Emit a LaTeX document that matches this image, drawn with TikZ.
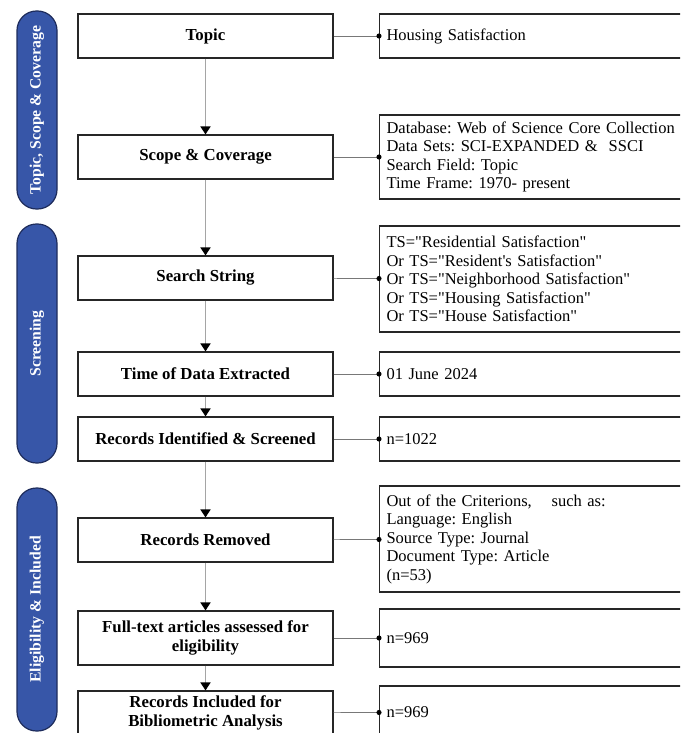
\documentclass[tikz,border=0pt]{standalone}
\usepackage{fontspec}
\setmainfont{Liberation Serif}
\usepackage{xcolor}
\usepackage{tikz}
\usetikzlibrary{arrows.meta}
\definecolor{pillblue}{RGB}{55,86,168}
\definecolor{pilledge}{RGB}{30,44,92}
\definecolor{flowgray}{RGB}{165,165,165}
\definecolor{linkgray}{RGB}{120,120,120}
\newcommand{\qt}[1]{\textquotedbl #1\textquotedbl}
\frenchspacing

\begin{document}
\begin{tikzpicture}[x=1pt,y=-1pt]
		\clip (0,0) rectangle (680,733);
		\tikzstyle{every node}+=[font=\fontsize{16.5}{18.5}\selectfont]
		\tikzstyle{stepbox}=[draw=black!85,line width=1.1pt,minimum width=255,minimum height=44,inner sep=2pt,align=center,font=\fontsize{16.8}{18.5}\selectfont\bfseries]
		\tikzstyle{infobox}=[draw=black!85,line width=1.1pt,anchor=west,text width=300,inner xsep=7,inner ysep=2,align=left]
		\tikzstyle{pill}=[draw=pilledge,line width=1.2pt,fill=pillblue,rounded corners=19.5,minimum height=40,inner sep=0pt,rotate=90,text=white,font=\fontsize{15.7}{17}\selectfont\bfseries]
		\tikzstyle{flow}=[draw=flowgray,line width=1.5pt,-{Triangle[width=10pt,length=8pt,color=black]}]
		\tikzstyle{link}=[draw=linkgray,line width=0.7pt,shorten >=-2.5pt,-{Circle[length=5pt,color=black]}]
		\node[pill,minimum width=198] (t) at (37,110) {Topic, Scope \& Coverage};
		\node[pill,minimum width=239] (u) at (37,343.5) {Screening};
		\node[pill,minimum width=243] (v) at (37,609.5) {Eligibility \& Included};
		\node[stepbox] (a) at (205.5,36) {Topic};
		\node[stepbox] (b) at (205.5,157) {Scope \& Coverage};
		\node[stepbox] (c) at (205.5,278) {Search String};
		\node[stepbox] (d) at (205.5,374) {Time of Data Extracted};
		\node[stepbox] (e) at (205.5,439) {Records Identified \& Screened};
		\node[stepbox] (f) at (205.5,540) {Records Removed};
		\node[stepbox,minimum height=54] (g) at (205.5,638) {Full-text articles assessed for\\eligibility};
		\node[stepbox] (h) at (205.5,713) {Records Included for\\Bibliometric Analysis};
		\node[infobox,minimum height=44] (i) at (379,36) {Housing Satisfaction};
		\node[infobox,minimum height=84] (j) at (379,157) {Database: Web of Science Core Collection\\Data Sets: SCI-EXPANDED \&\ \ SSCI\\Search Field: Topic\\Time Frame: 1970- present};
		\node[infobox,minimum height=106] (k) at (379,279) {TS=\qt{Residential Satisfaction}\\Or TS=\qt{Resident\textquotesingle s Satisfaction}\\Or TS=\qt{Neighborhood Satisfaction}\\Or TS=\qt{Housing Satisfaction}\\Or TS=\qt{House Satisfaction}};
		\node[infobox,minimum height=44] (l) at (379,374) {01 June 2024};
		\node[infobox,minimum height=44] (m) at (379,439) {n=1022};
		\node[infobox,minimum height=106] (n) at (379,539) {Out of the Criterions,\hspace{1.2em}such as:\\Language: English\\Source Type: Journal\\Document Type: Article\\(n=53)};
		\node[infobox,minimum height=58] (o) at (379,638) {n=969};
		\node[infobox,minimum height=52] (p) at (379,712) {n=969};
		\draw (a) edge[flow] (b)
			  (b) edge[flow] (c)
			  (c) edge[flow] (d)
			  (d) edge[flow] (e)
			  (e) edge[flow] (f)
			  (f) edge[flow] (g)
			  (g) edge[flow] (h);
		\draw (a) edge[link] (i)
			  (b) edge[link] (j)
			  (c) edge[link] (k)
			  (d) edge[link] (l)
			  (e) edge[link] (m)
			  (f) edge[link] (n)
			  (g) edge[link] (o)
			  (h) edge[link] (p);
\end{tikzpicture}
\end{document}
